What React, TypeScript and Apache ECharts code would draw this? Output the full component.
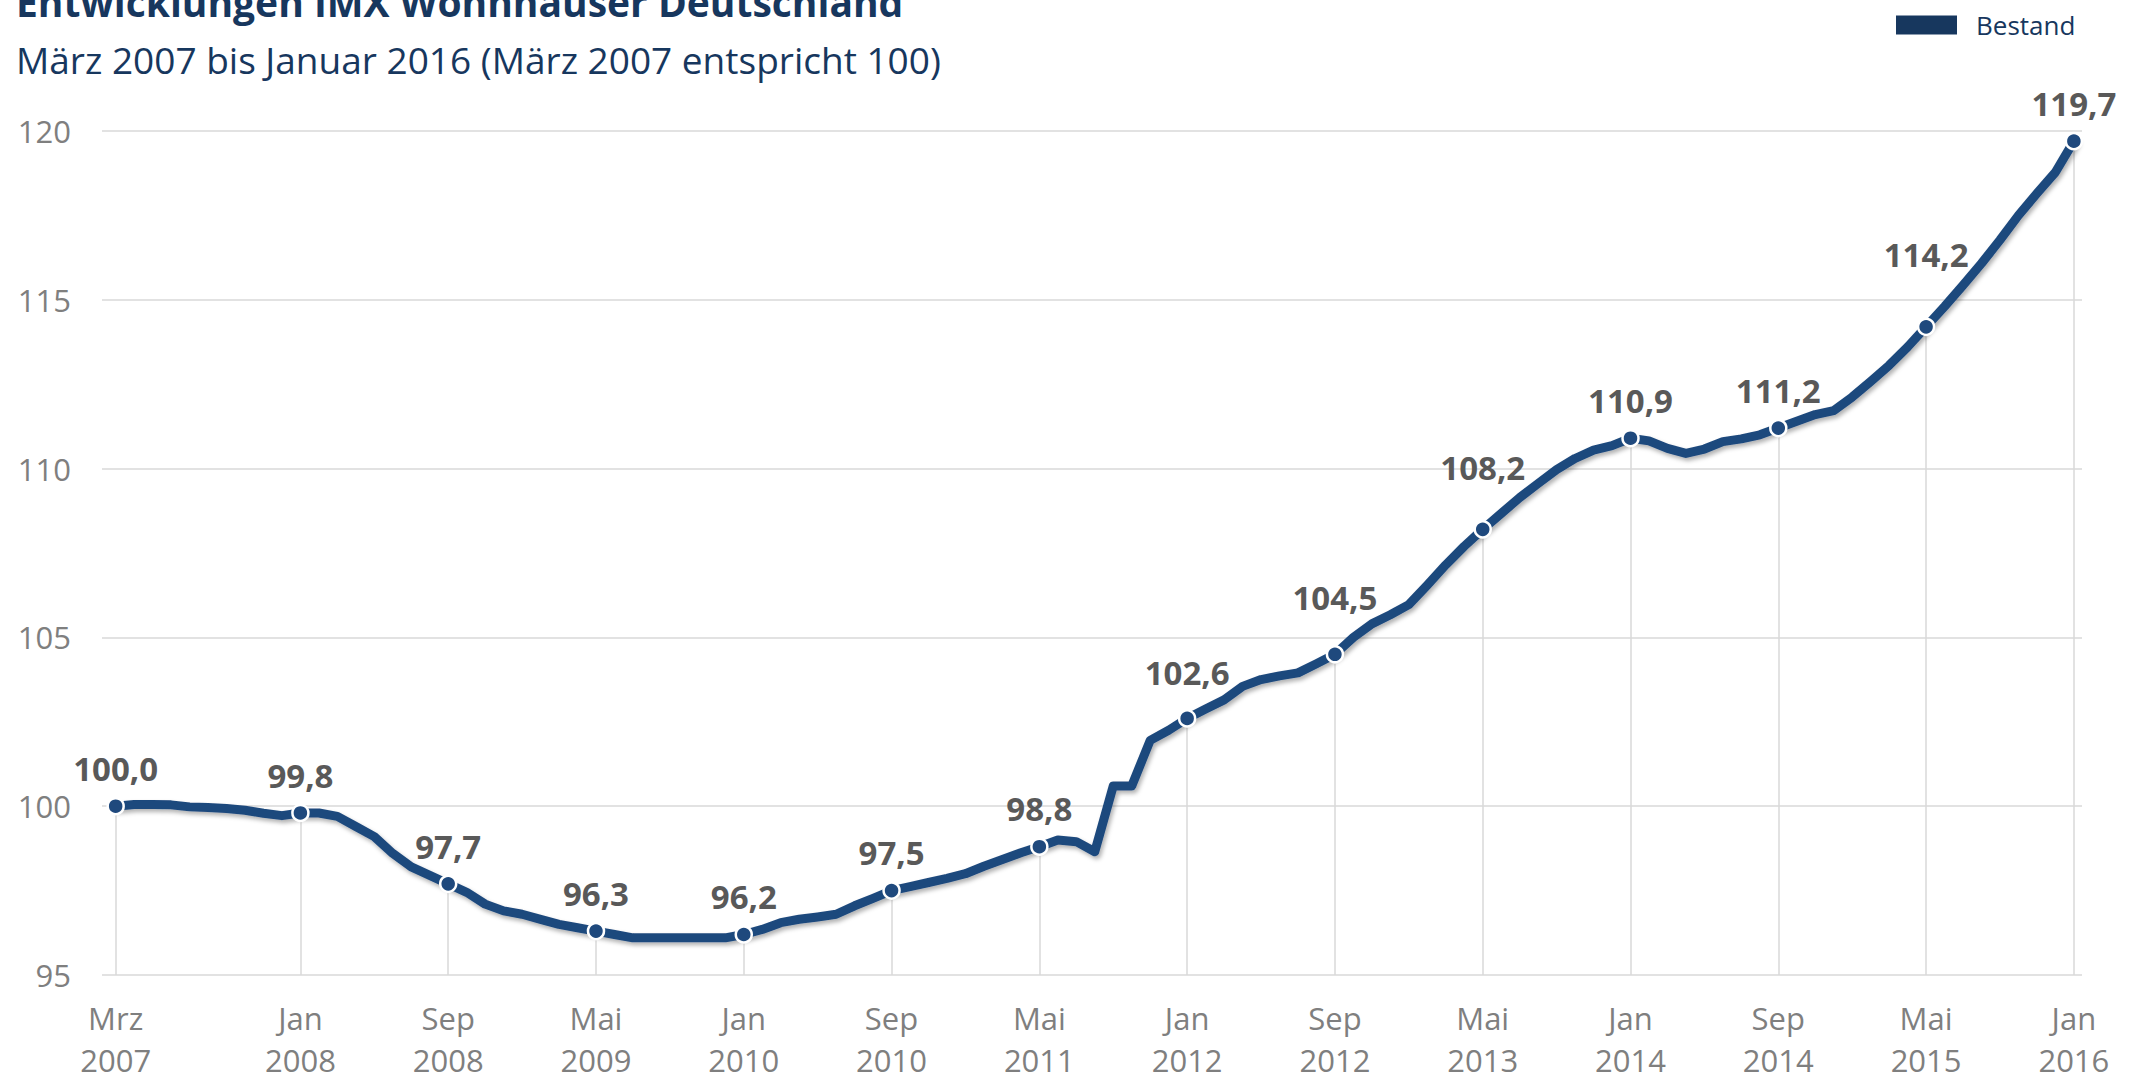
import React, { useEffect, useRef } from "react";
import * as echarts from "echarts";

const titleText = "Entwicklungen IMX Wohnhäuser Deutschland";
const subtitleText = "März 2007 bis Januar 2016 (März 2007 entspricht 100)";
const seriesName = "Bestand";

// monthly index values, Mrz 2007 (index 0) .. Jan 2016 (index 106)
const values: number[] = [
  100.0, 100.05, 100.05, 100.04, 99.98, 99.96, 99.93, 99.88, 99.79, 99.72,
  99.8, 99.8, 99.7, 99.4, 99.1, 98.6, 98.2, 97.95, 97.7, 97.45,
  97.1, 96.9, 96.8, 96.65, 96.5, 96.4, 96.3, 96.2, 96.1, 96.1,
  96.1, 96.1, 96.1, 96.1, 96.2, 96.35, 96.55, 96.65, 96.72, 96.8,
  97.05, 97.27, 97.5, 97.62, 97.74, 97.86, 98.0, 98.22, 98.42, 98.62,
  98.8, 99.0, 98.95, 98.65, 100.6, 100.6, 101.95, 102.25, 102.6, 102.88,
  103.15, 103.55, 103.75, 103.86, 103.95, 104.22, 104.5, 105.0, 105.4, 105.67,
  105.97, 106.55, 107.15, 107.7, 108.2, 108.67, 109.14, 109.56, 109.97, 110.3,
  110.55, 110.68, 110.9, 110.82, 110.6, 110.45, 110.58, 110.8, 110.88, 111.0,
  111.2, 111.4, 111.6, 111.72, 112.12, 112.58, 113.06, 113.6, 114.2, 114.8,
  115.43, 116.08, 116.77, 117.5, 118.15, 118.78, 119.7,
];

const tickIndex: number[] = [0, 10, 18, 26, 34, 42, 50, 58, 66, 74, 82, 90, 98, 106];
const tickLabels: string[] = [
  "Mrz\n2007", "Jan\n2008", "Sep\n2008", "Mai\n2009", "Jan\n2010", "Sep\n2010", "Mai\n2011",
  "Jan\n2012", "Sep\n2012", "Mai\n2013", "Jan\n2014", "Sep\n2014", "Mai\n2015", "Jan\n2016",
];
// extra label distance (px) for labels lifted above the line
const labelDistance: number[] = [12, 12, 12, 12, 12, 12, 12, 20, 31, 36, 12, 12, 47, 12];

const yTicks = { min: 95, max: 120, interval: 5 };

const LINE = "#1F497D";
const NAVY = "#17375E";
const FONT = '"Open Sans", "Noto Sans", sans-serif';

export default function App() {
  const ref = useRef<HTMLDivElement>(null);
  useEffect(() => {
    if (!ref.current) return;
    const chart = echarts.init(ref.current, undefined, { renderer: "svg" });

    const lineData = values.map((v, i) => {
      const k = tickIndex.indexOf(i);
      if (k >= 0) {
        return {
          value: [i, v],
          symbol: "circle",
          symbolSize: 16,
          label: { show: true, distance: labelDistance[k] },
        };
      }
      return { value: [i, v], symbol: "none" };
    });

    const dropLines = tickIndex.map((i) => [
      { coord: [i, values[i]] },
      { coord: [i, yTicks.min] },
    ]);

    chart.setOption({
      animation: false,
      backgroundColor: "#ffffff",
      textStyle: { fontFamily: FONT },
      graphic: [
        {
          type: "text",
          x: 16,
          y: 1,
          style: {
            text: titleText,
            fontFamily: FONT,
            fontSize: 39,
            fontWeight: "bold",
            fill: NAVY,
            verticalAlign: "middle",
          },
        },
        {
          type: "text",
          x: 16,
          y: 59,
          style: {
            text: subtitleText,
            fontFamily: FONT,
            fontSize: 37,
            fill: NAVY,
            verticalAlign: "middle",
          },
        },
      ],
      legend: {
        data: [{ name: seriesName, itemStyle: { color: NAVY } }],
        left: 1894,
        top: 12,
        padding: 0,
        icon: "rect",
        itemWidth: 63,
        itemHeight: 21,
        selectedMode: false,
        textStyle: {
          fontFamily: FONT,
          fontSize: 26,
          color: NAVY,
          padding: [0, 0, 0, 13],
        },
      },
      grid: {
        left: 102,
        right: 52,
        top: 131,
        bottom: 106,
        containLabel: false,
        outerBoundsMode: "none",
      },
      xAxis: {
        type: "value",
        min: -0.74,
        max: 106.44,
        axisLine: { show: false },
        axisTick: { show: false },
        splitLine: { show: false },
        axisLabel: {
          customValues: tickIndex,
          formatter: (v: number) => {
            const k = tickIndex.indexOf(Math.round(v));
            return k >= 0 ? tickLabels[k] : "";
          },
          color: "#7f7f7f",
          fontFamily: FONT,
          fontSize: 31,
          lineHeight: 42,
          margin: 22,
        },
      },
      yAxis: {
        type: "value",
        min: yTicks.min,
        max: yTicks.max,
        interval: yTicks.interval,
        axisLine: { show: false },
        axisTick: { show: false },
        axisLabel: {
          color: "#7f7f7f",
          fontFamily: FONT,
          fontSize: 31,
          margin: 31,
        },
        splitLine: { lineStyle: { color: "#d9d9d9", width: 1.5 } },
      },
      series: [
        {
          name: "drop",
          type: "line",
          data: values.map((v, i) => [i, v]),
          symbol: "none",
          lineStyle: { opacity: 0 },
          silent: true,
          z: 1,
          markLine: {
            silent: true,
            z: 1,
            symbol: "none",
            label: { show: false },
            lineStyle: { color: "#d9d9d9", width: 1.5, type: "solid" },
            data: dropLines,
          },
        },
        {
          name: seriesName,
          type: "line",
          data: lineData,
          z: 6,
          smooth: false,
          lineStyle: {
            color: LINE,
            width: 9,
            join: "round",
            cap: "round",
            shadowColor: "rgba(0,0,0,0.3)",
            shadowBlur: 4,
            shadowOffsetX: 2,
            shadowOffsetY: 3,
          },
          itemStyle: { color: LINE, borderColor: "#ffffff", borderWidth: 2.5 },
          label: {
            position: "top",
            color: "#595959",
            fontFamily: FONT,
            fontSize: 33,
            fontWeight: "bold",
            formatter: (p: any) => p.value[1].toFixed(1).replace(".", ","),
          },
        },
      ],
    });

    return () => chart.dispose();
  }, []);

  return (
    <div
      ref={ref}
      style={{ position: "fixed", left: 0, top: 0, width: 2134, height: 1081 }}
    />
  );
}
